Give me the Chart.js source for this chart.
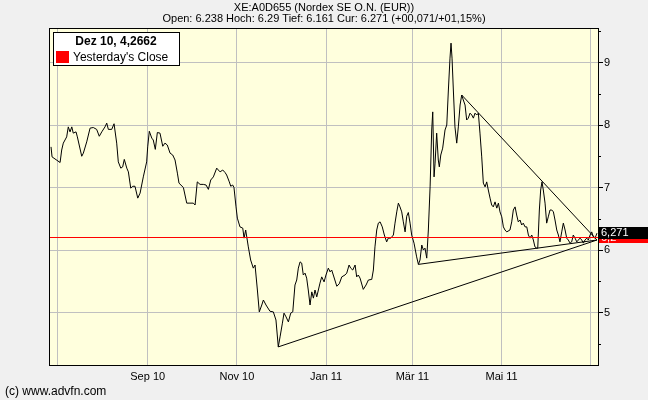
<!DOCTYPE html>
<html><head><meta charset="utf-8">
<script src="https://cdn.jsdelivr.net/npm/chart.js@4"></script>
<style>html,body{margin:0;padding:0;background:#f0f0f0;}canvas{display:block;}</style>
</head><body>
<canvas id="c" width="648" height="400"></canvas>
<script>
// days since 1 Jul 2010
const days = [-4.1,-3.4,2.1,3.2,4.3,6.6,7.7,8.9,10.1,11.1,
13.0,13.9,16.9,18.0,20.3,22.6,24.8,27.1,28.9,30.6,
32.8,34.0,35.1,37.4,39.0,40.8,41.9,43.6,44.9,46.0,
47.7,48.8,50.4,51.8,53.3,55.2,56.8,59.0,61.3,62.0,
63.1,64.8,65.8,67.2,68.6,70.4,72.3,73.8,75.4,77.3,
79.1,80.7,82.3,83.4,86.4,88.7,90.9,93.2,94.4,95.9,
97.8,100.0,101.9,103.5,105.1,106.9,109.2,110.3,111.5,113.3,
114.9,116.0,117.8,118.8,120.1,121.0,122.4,123.3,125.1,127.0,
127.9,129.0,130.8,132.4,134.2,135.4,137.0,138.3,140.0,141.1,
142.9,145.6,147.9,149.7,151.3,152.5,154.1,155.2,156.6,158.2,
159.8,161.2,162.7,163.9,165.0,166.2,167.3,168.4,169.6,170.7,
171.8,173.0,174.2,175.3,176.4,177.6,178.7,179.8,181.0,182.6,
183.9,185.5,186.7,187.8,188.9,191.3,193.0,194.7,196.9,198.1,
199.7,200.8,202.2,203.8,204.9,206.0,207.2,209.4,211.3,212.9,
215.2,216.3,217.4,218.6,219.7,220.9,222.4,223.8,225.4,226.5,
228.2,230.0,231.1,232.3,233.4,234.5,235.7,236.8,238.0,239.1,
240.2,241.4,242.5,244.1,245.9,247.1,248.2,249.4,250.5,251.6,
252.8,253.9,255.1,256.2,256.9,257.8,258.5,259.6,260.7,261.4,
262.4,263.7,265.3,266.5,267.6,268.7,269.4,270.1,271.0,272.1,
273.3,274.4,275.6,276.7,277.8,279.0,280.1,281.2,282.4,283.6,
284.7,285.8,287.0,288.1,289.2,290.4,291.5,292.7,293.8,294.9,
296.1,297.2,298.3,299.5,300.7,301.8,302.9,304.1,305.2,306.3,
307.5,309.7,310.9,312.0,313.2,314.3,315.4,316.6,317.7,318.8,
320.0,321.2,322.3,323.4,324.6,325.7,326.8,328.0,328.7,329.8,
330.7,331.6,332.5,333.7,334.8,335.9,337.1,338.3,339.4,340.5,
341.7,342.8,343.9,345.1,346.2,347.4,348.5,349.6,350.8,351.9,
353.0,354.2,355.4,356.5,357.6,358.8,359.9,361.0,362.2,363.3,
364.5,365.6,366.7,367.9,369.2];
const prices = [7.65,7.49,7.40,7.60,7.71,7.81,7.97,7.89,7.97,7.87,
7.89,7.81,7.50,7.55,7.73,7.95,7.96,7.93,7.82,7.89,
7.97,8.03,7.93,7.93,8.02,7.71,7.41,7.31,7.33,7.45,
7.31,7.25,6.99,7.02,7.02,6.83,6.91,7.17,7.41,7.65,
7.90,7.79,7.76,7.61,7.88,7.87,7.66,7.71,7.68,7.55,
7.52,7.44,7.23,7.07,7.00,6.75,6.75,6.75,6.72,7.09,
7.05,7.05,7.04,6.97,7.12,7.17,7.31,7.28,7.25,7.28,
7.24,7.20,7.09,7.02,7.04,7.00,6.69,6.51,6.37,6.35,
6.19,6.32,6.05,5.84,5.71,5.76,5.36,5.01,5.12,5.20,
5.12,5.02,5.01,4.88,4.45,4.61,4.83,4.99,4.93,4.85,
4.99,5.01,5.44,5.52,5.71,5.81,5.79,5.60,5.63,5.55,
5.36,5.12,5.33,5.23,5.36,5.25,5.36,5.47,5.57,5.49,
5.60,5.71,5.65,5.68,5.60,5.42,5.46,5.57,5.60,5.63,
5.76,5.71,5.68,5.76,5.57,5.60,5.55,5.37,5.44,5.52,
5.53,5.68,6.05,6.32,6.43,6.45,6.37,6.24,6.13,6.19,
6.19,6.24,6.43,6.61,6.75,6.69,6.61,6.45,6.29,6.54,
6.60,6.43,6.24,6.11,5.89,5.77,5.84,6.08,6.00,6.03,
5.87,6.32,7.01,7.92,8.21,7.17,7.39,7.87,7.44,7.33,
7.52,7.63,7.92,8.00,8.56,9.07,9.31,9.07,8.56,7.97,
7.71,7.97,8.32,8.48,8.40,8.32,8.08,8.11,8.19,8.16,
8.11,8.19,8.16,8.19,7.87,7.49,7.07,7.01,7.09,6.96,
6.83,6.72,6.69,6.77,6.67,6.75,6.61,6.53,6.37,6.32,
6.29,6.32,6.45,6.64,6.69,6.56,6.45,6.48,6.40,6.43,
6.37,6.37,6.24,6.19,6.24,6.16,6.05,6.03,6.03,6.64,
6.96,7.09,6.96,6.75,6.43,6.53,6.64,6.64,6.61,6.48,
6.32,6.24,6.13,6.29,6.43,6.32,6.19,6.16,6.11,6.13,
6.24,6.19,6.13,6.16,6.19,6.16,6.11,6.16,6.19,6.16,
6.24,6.29,6.21,6.19,6.27];

const monthTicks = [0, 62, 123, 184, 243, 304, 365];
const monthLabels = ['', 'Sep 10', 'Nov 10', 'Jan 11', 'Mär 11', 'Mai 11', ''];
const yTicks = [5, 6, 7, 8, 9];
const yMinorTicks = [4.5, 5.5, 6.5, 7.5, 8.5, 9.5];

const trendLowDays = [151.3, 369.2], trendLowPrices = [4.45, 6.16];
const trendMarDays = [247.1, 369.2], trendMarPrices = [5.77, 6.16];
const trendTopDays = [276.7, 369.2], trendTopPrices = [8.48, 6.16];

const xRange = [-4.8, 369.9];
const yRange = [4.16, 9.536];
const yesterdayClose = 6.2;
const currentPrice = 6.271;
const currentLabel = '6,271';
const closeLabel = '6,2';

const titleLine1 = 'XE:A0D655 (Nordex SE O.N. (EUR))';
const titleLine2 = 'Open: 6.238 Hoch: 6.29 Tief: 6.161 Cur: 6.271 (+00,071/+01,15%)';
const legendHeader = 'Dez 10, 4,2662';
const legendItem = "Yesterday's Close";
const copyright = '(c) www.advfn.com';

const FONT = '"Liberation Sans", Arial, sans-serif';
const pts = (xs, ys) => xs.map((x, i) => ({x, y: ys[i]}));

const decor = {
  id: 'decor',
  beforeDraw(chart) {
    const {ctx, chartArea: a} = chart;
    ctx.save();
    ctx.fillStyle = '#f0f0f0';
    ctx.fillRect(0, 0, chart.width, chart.height);
    ctx.fillStyle = '#ffffdd';
    ctx.fillRect(a.left, a.top, a.right - a.left, a.bottom - a.top);
    ctx.restore();
  },
  afterDraw(chart) {
    const {ctx, chartArea: a} = chart;
    const ys = chart.scales.y;
    ctx.save();
    // plot border
    ctx.strokeStyle = '#000';
    ctx.lineWidth = 1;
    ctx.strokeRect(Math.round(a.left) - 0.5, Math.round(a.top) - 0.5, Math.round(a.right - a.left) + 1, Math.round(a.bottom - a.top) + 1);
    // minor ticks
    ctx.beginPath();
    yMinorTicks.forEach(v => {
      const py = Math.round(ys.getPixelForValue(v)) + 0.5;
      ctx.moveTo(a.right, py); ctx.lineTo(a.right + 3, py);
    });
    ctx.stroke();
    // titles
    ctx.fillStyle = '#000';
    ctx.font = '11px ' + FONT;
    ctx.textAlign = 'center';
    ctx.textBaseline = 'alphabetic';
    ctx.fillText(titleLine1, 324, 11);
    ctx.fillText(titleLine2, 324, 22);
    // copyright
    ctx.textAlign = 'left';
    ctx.font = '12px ' + FONT;
    ctx.fillText(copyright, 5, 395);
    // price labels on the right axis
    const pc = ys.getPixelForValue(yesterdayClose);
    ctx.fillStyle = '#ff0000';
    ctx.fillRect(a.right + 1, Math.round(pc) - 6, chart.width - a.right, 12);
    ctx.fillStyle = '#fff';
    ctx.font = '11px ' + FONT;
    ctx.textBaseline = 'middle';
    ctx.fillText(closeLabel, a.right + 3, pc);
    const pcur = ys.getPixelForValue(currentPrice);
    ctx.fillStyle = '#000';
    ctx.fillRect(a.right + 1, Math.round(pcur) - 6, chart.width - a.right, 12);
    ctx.fillStyle = '#fff';
    ctx.fillText(currentLabel, a.right + 3, pcur);
    // legend box
    ctx.fillStyle = '#fff';
    ctx.fillRect(53, 32, 126, 33);
    ctx.strokeStyle = '#000';
    ctx.strokeRect(53.5, 32.5, 126, 33);
    ctx.fillStyle = '#000';
    ctx.textBaseline = 'alphabetic';
    ctx.textAlign = 'center';
    ctx.font = 'bold 12px ' + FONT;
    ctx.fillText(legendHeader, 116, 45);
    ctx.fillStyle = '#ff0000';
    ctx.fillRect(56, 51, 13, 12);
    ctx.fillStyle = '#000';
    ctx.textAlign = 'left';
    ctx.font = '12px ' + FONT;
    ctx.fillText(legendItem, 73, 61);
    ctx.restore();
  }
};

const lineDs = (data, color) => ({data, borderColor: color, borderWidth: 1, pointRadius: 0, fill: false, tension: 0});

new Chart(document.getElementById('c'), {
  type: 'line',
  data: {
    datasets: [
      lineDs(pts(xRange, [yesterdayClose, yesterdayClose]), '#ff0000'),
      lineDs(pts(days, prices), '#000'),
      lineDs(pts(trendLowDays, trendLowPrices), '#000'),
      lineDs(pts(trendMarDays, trendMarPrices), '#000'),
      lineDs(pts(trendTopDays, trendTopPrices), '#000')
    ]
  },
  options: {
    responsive: false,
    animation: false,
    devicePixelRatio: 1,
    layout: {padding: {left: 50, top: 29, right: 0, bottom: 0}},
    plugins: {legend: {display: false}, tooltip: {enabled: false}, title: {display: false}},
    scales: {
      x: {
        type: 'linear', min: xRange[0], max: xRange[1],
        afterBuildTicks: s => { s.ticks = monthTicks.map(v => ({value: v})); },
        afterFit: s => { s.height = 35; },
        grid: {color: '#c0c0c0', drawTicks: false},
        border: {color: '#000'},
        ticks: {
          autoSkip: false, maxRotation: 0, padding: 5, color: '#000',
          font: {family: FONT, size: 11},
          callback: v => { const i = monthTicks.indexOf(v); return i >= 0 ? monthLabels[i] : ''; }
        }
      },
      y: {
        type: 'linear', position: 'right', min: yRange[0], max: yRange[1],
        afterBuildTicks: s => { s.ticks = yTicks.map(v => ({value: v})); },
        afterFit: s => { s.width = 50; },
        grid: {color: '#c0c0c0', tickColor: '#000', tickLength: 5},
        border: {color: '#000'},
        ticks: {padding: 1, color: '#000', font: {family: FONT, size: 11}, callback: v => String(v)}
      }
    }
  },
  plugins: [decor]
});
</script>
</body></html>
